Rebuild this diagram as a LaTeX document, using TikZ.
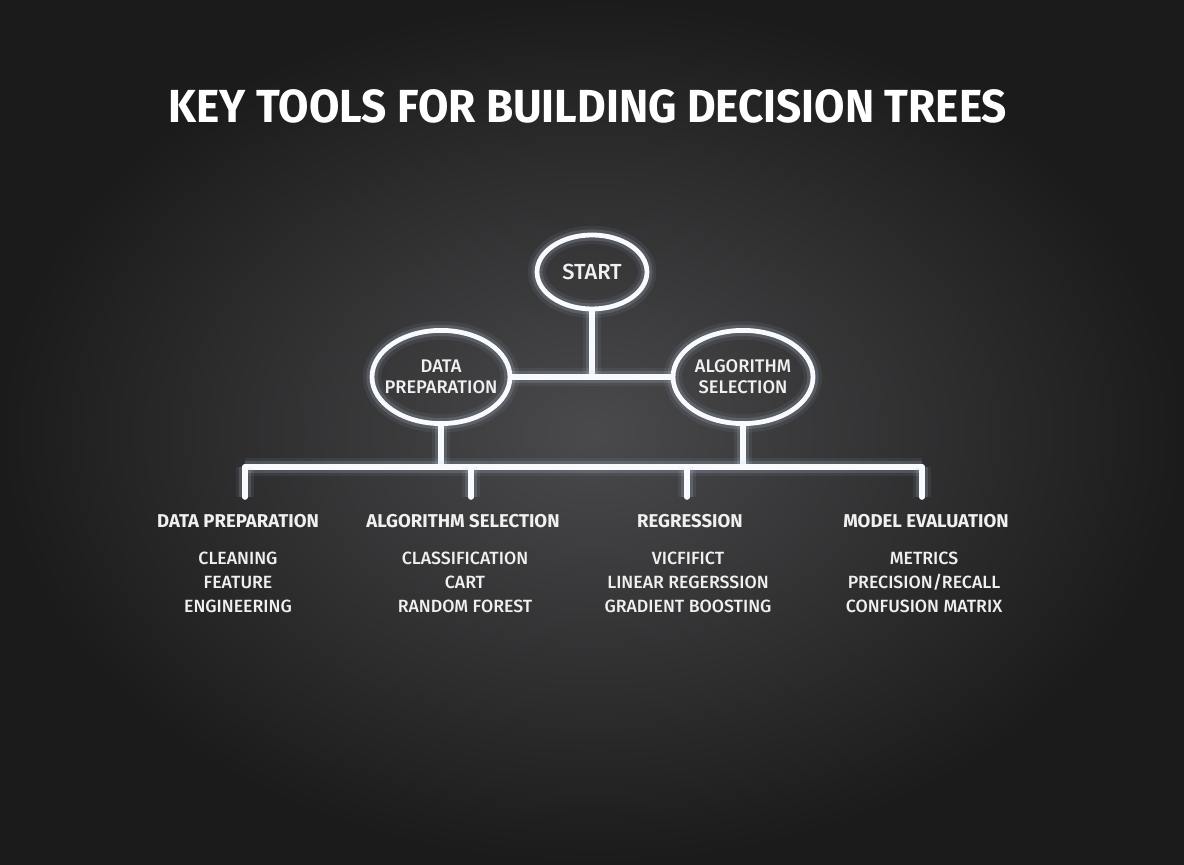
\documentclass[tikz,border=0pt]{standalone}
\usepackage{fontspec}
\setmainfont{Fira Sans}
\newfontfamily\titlefont[FakeStretch=0.95]{Fira Sans}
\newfontfamily\itemfont{Fira Sans Medium}
\usepackage{tikz}
\usetikzlibrary{positioning,shapes.geometric,calc}
\usepackage{xcolor}
\definecolor{bgin}{RGB}{74,74,76}
\definecolor{bgout}{RGB}{27,27,28}
\definecolor{linewht}{RGB}{248,250,254}
\definecolor{glowblu}{RGB}{200,218,245}
\definecolor{txtwht}{RGB}{240,240,240}

\begin{document}
\begin{tikzpicture}[font=\sffamily]
\tikzset{
  GL/.style={preaction={draw=glowblu,line width=13pt,opacity=0.07},
             preaction={draw=glowblu,line width=8pt,opacity=0.16},
             line width=4pt,draw=linewht},
  EL/.style={GL,ellipse,line width=3.4pt,inner xsep=-0.25cm,inner ysep=0pt,font=\fontsize{13}{15}\selectfont\itemfont\color{txtwht},align=center},
  HD/.style={font=\fontsize{13.2}{15}\selectfont\bfseries\color{txtwht},align=center},
  IT/.style={font=\fontsize{12.6}{17}\selectfont\itemfont\color{txtwht},align=center},
  LN/.style={GL,line cap=round},
}

% background and frame
\fill[inner color=bgin,outer color=bgout] (0,0) rectangle (29.6,21.6);
\useasboundingbox (0,0) rectangle (29.6,21.6);

\node[font=\fontsize{33}{36}\selectfont\titlefont\bfseries\color{white}](title) at (14.7,18.95){KEY TOOLS FOR BUILDING DECISION TREES};

\node[EL,minimum width=2.75cm,minimum height=1.85cm,font=\fontsize{15.5}{17}\selectfont\itemfont\color{txtwht}](start) at (14.8,14.8){START};
\node[EL,minimum width=3.45cm,minimum height=2.33cm](prep) at (11.025,12.175){DATA\\PREPARATION};
\node[EL,minimum width=3.5cm,minimum height=2.33cm](algo) at (18.575,12.175){ALGORITHM\\SELECTION};

\node[HD](h1) at ( 5.95,8.575){DATA PREPARATION};
\node[HD](h2) at (11.575,8.575){ALGORITHM SELECTION};
\node[HD](h3) at (17.25,8.575){REGRESSION};
\node[HD](h4) at (23.15,8.575){MODEL EVALUATION};

\node[IT](i1) at ( 5.95,7.05){CLEANING\\FEATURE\\ENGINEERING};
\node[IT](i2) at (11.625,7.05){CLASSIFICATION\\CART\\RANDOM FOREST};
\node[IT](i3) at (17.2,7.05){VICFIFICT\\LINEAR REGERSSION\\GRADIENT BOOSTING};
\node[IT](i4) at (23.1,7.05){METRICS\\PRECISION/RECALL\\CONFUSION MATRIX};

% connectors
\coordinate (hub) at (start.south |- prep.east);
\coordinate (busL) at (6.125,9.925);
\coordinate (busR) at (23.05,9.925);
\coordinate (d1) at (6.125,9.175);
\coordinate (d2) at (11.775,9.175);
\coordinate (d3) at (17.175,9.175);
\coordinate (d4) at (23.05,9.175);

\draw[LN](start.south)--(hub);
\draw[LN](prep.east)--(algo.west);
\draw[LN](prep.south)--(prep.south |- busL);
\draw[LN](algo.south)--(algo.south |- busL);
\draw[LN](busL)--(busR);
\draw[LN](d1 |- busL)--(d1);
\draw[LN](d2 |- busL)--(d2);
\draw[LN](d3 |- busL)--(d3);
\draw[LN](d4 |- busL)--(d4);

\end{tikzpicture}
\end{document}
